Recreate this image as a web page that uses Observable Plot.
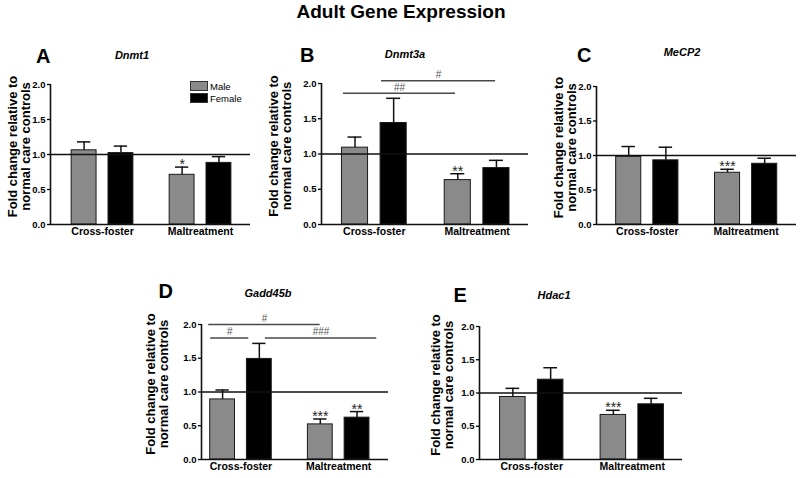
<!DOCTYPE html>
<html><head><meta charset="utf-8">
<script src="https://cdn.jsdelivr.net/npm/d3@7"></script>
<script src="https://cdn.jsdelivr.net/npm/@observablehq/plot@0.6"></script>
<style>
body{margin:0;background:#fff;font-family:"Liberation Sans",Arial,sans-serif;}
#fig{position:relative;width:800px;height:478px;overflow:hidden;background:#fff;}
.abs{position:absolute;line-height:1;white-space:nowrap;color:#000;}
.panel{position:absolute;}
</style></head><body><div id="fig"></div>
<script>
// ---- data ----
const groups = ["Cross-foster", "Maltreatment"];
const sexes = ["Male", "Female"];
const genes = ["Dnmt1", "Dnmt3a", "MeCP2", "Gadd45b", "Hdac1"];
const panelLetters = ["A", "B", "C", "D", "E"];
const yTicks = [0, 0.5, 1, 1.5, 2];
const yLabel = "Fold change relative to\nnormal care controls";
const title = "Adult Gene Expression";

// order: Cross-foster Male, Cross-foster Female, Maltreatment Male, Maltreatment Female
const dnmt1Mean = [1.06, 1.02, 0.71, 0.88];
const dnmt1Sem = [0.12, 0.10, 0.11, 0.09];
const dnmt1Stars = ["", "", "*", ""];

const dnmt3aMean = [1.09, 1.44, 0.63, 0.80];
const dnmt3aSem = [0.15, 0.35, 0.09, 0.11];
const dnmt3aStars = ["", "", "**", ""];

const mecp2Mean = [0.98, 0.93, 0.75, 0.88];
const mecp2Sem = [0.15, 0.19, 0.05, 0.08];
const mecp2Stars = ["", "", "***", ""];

const gadd45bMean = [0.89, 1.49, 0.52, 0.62];
const gadd45bSem = [0.14, 0.23, 0.08, 0.09];
const gadd45bStars = ["", "", "***", "**"];

const hdac1Mean = [0.94, 1.20, 0.67, 0.83];
const hdac1Sem = [0.13, 0.18, 0.07, 0.09];
const hdac1Stars = ["", "", "***", ""];

// significance brackets (x in group units: 0 = Cross-foster, 1 = Maltreatment)
const dnmt3aSigFrom = [-0.30, 0.07];
const dnmt3aSigTo = [0.79, 1.18];
const dnmt3aSigY = [1.86, 2.04];
const dnmt3aSigLabel = ["##", "#"];

const gadd45bSigFrom = [-0.33, -0.31, 0.25];
const gadd45bSigTo = [0.81, 0.08, 1.39];
const gadd45bSigY = [2.00, 1.80, 1.80];
const gadd45bSigLabel = ["#", "#", "###"];

const means = [dnmt1Mean, dnmt3aMean, mecp2Mean, gadd45bMean, hdac1Mean];
const sems = [dnmt1Sem, dnmt3aSem, mecp2Sem, gadd45bSem, hdac1Sem];
const stars = [dnmt1Stars, dnmt3aStars, mecp2Stars, gadd45bStars, hdac1Stars];
const sigs = [null, [dnmt3aSigFrom, dnmt3aSigTo, dnmt3aSigY, dnmt3aSigLabel], null,
  [gadd45bSigFrom, gadd45bSigTo, gadd45bSigY, gadd45bSigLabel], null];

// ---- layout ----
const FONT = '"Liberation Sans", Arial, sans-serif';
const sexOffset = 0.188, halfBar = 0.127, halfCap = 0.068;
const layouts = [
  {left: 0,   top: 40,  width: 260, height: 210, mL: 50, mR: 10, mT: 44, mB: 26, xd: [-0.531, 1.51], ldx: -31},
  {left: 270, top: 40,  width: 268, height: 210, mL: 51, mR: 10, mT: 43, mB: 26, xd: [-0.514, 1.50], ldx: -41},
  {left: 540, top: 40,  width: 260, height: 210, mL: 56, mR: 4,  mT: 46, mB: 26, xd: [-0.514, 1.51], ldx: -31},
  {left: 150, top: 280, width: 248, height: 205, mL: 51, mR: 10, mT: 44, mB: 26, xd: [-0.404, 1.51], ldx: -44},
  {left: 430, top: 280, width: 262, height: 205, mL: 49, mR: 10, mT: 46, mB: 26, xd: [-0.52, 1.50], ldx: -37}
];
const letterPos = [[36, 45.8], [300, 44.8], [577, 44.8], [158.5, 281.4], [453.5, 284.8]];
const genePos = [[132, 50.3], [405, 49.3], [682, 47.3], [268, 288.3], [554, 290.3]];

const fig = document.getElementById("fig");
function addText(txt, left, top, css) {
  const d = document.createElement("div");
  d.className = "abs";
  d.textContent = txt;
  d.style.left = left + "px";
  d.style.top = top + "px";
  d.style.cssText += css;
  fig.appendChild(d);
  return d;
}

addText(title, 401, 2.2, "font-size:19px;font-weight:bold;transform:translateX(-50%);");

genes.forEach((gene, p) => {
  const L = layouts[p];
  const rows = [];
  groups.forEach((g, gi) => sexes.forEach((s, si) => {
    const k = gi * 2 + si;
    const xc = gi + (si === 0 ? -sexOffset : sexOffset);
    rows.push({group: g, sex: s, xc, mean: means[p][k], cap: means[p][k] + sems[p][k], star: stars[p][k]});
  }));
  const marks = [
    Plot.rect(rows, {x1: d => d.xc - halfBar, x2: d => d.xc + halfBar, y1: 0, y2: "mean",
      fill: "sex", stroke: "#1a1a1a", strokeWidth: 1}),
    Plot.ruleX(rows, {x: "xc", y1: "mean", y2: "cap", stroke: "#111", strokeWidth: 1.5}),
    Plot.ruleY(rows, {x1: d => d.xc - halfCap, x2: d => d.xc + halfCap, y: "cap", stroke: "#111", strokeWidth: 1.5}),
    Plot.ruleY([1], {stroke: "#111", strokeWidth: 1.3}),
    Plot.ruleY([0], {stroke: "#111", strokeWidth: 1.6}),
    Plot.ruleX([L.xd[0]], {stroke: "#111", strokeWidth: 1.6}),
    Plot.axisY(yTicks, {tickFormat: d3.format(".1f"), tickSize: 3, tickPadding: 2, fontSize: 9.5,
      fontWeight: "bold", label: null, strokeWidth: 1.3}),
    Plot.axisX([0, 1], {tickFormat: i => groups[i], tickSize: 0, tickPadding: 3, fontSize: 10.5,
      fontWeight: "bold", label: null}),
    Plot.text([yLabel], {frameAnchor: "left", textAnchor: "middle", lineAnchor: "middle", rotate: -90,
      dx: L.ldx, dy: -8, fontSize: 13, fontWeight: "bold", lineHeight: 1.03}),
    Plot.text(rows.filter(d => d.star), {x: "xc", y: "cap", text: "star", lineAnchor: "bottom",
      dy: 2, fontSize: 14, fill: "#222"})
  ];
  if (sigs[p]) {
    const [from, to, ys, labels] = sigs[p];
    const sig = from.map((f, i) => ({from: f, to: to[i], y: ys[i], label: labels[i]}));
    marks.push(Plot.ruleY(sig, {x1: "from", x2: "to", y: "y", stroke: "#4a4a4a", strokeWidth: 1.5}));
    marks.push(Plot.text(sig, {x: d => (d.from + d.to) / 2, y: "y", text: "label", dy: -6,
      fontSize: 10, fill: "#555"}));
  }
  const chart = Plot.plot({
    width: L.width, height: L.height,
    marginLeft: L.mL, marginRight: L.mR, marginTop: L.mT, marginBottom: L.mB,
    x: {type: "linear", domain: L.xd, axis: null},
    y: {domain: [0, 2], axis: null},
    color: {domain: sexes, range: ["#8a8a8a", "#000000"]},
    style: {fontFamily: FONT, background: "transparent", overflow: "visible", color: "#000"},
    marks
  });
  chart.classList.add("panel");
  chart.style.left = L.left + "px";
  chart.style.top = L.top + "px";
  fig.appendChild(chart);

  addText(panelLetters[p], letterPos[p][0], letterPos[p][1], "font-size:20px;font-weight:bold;");
  addText(gene, genePos[p][0], genePos[p][1], "font-size:11px;font-weight:bold;font-style:italic;transform:translateX(-50%);");
});

// legend (panel A)
const legendTops = [81, 93];
sexes.forEach((s, i) => {
  const sw = document.createElement("div");
  sw.className = "abs";
  sw.style.cssText += `left:190px;top:${legendTops[i]}px;width:18px;height:10px;box-sizing:border-box;border:1px solid #333;background:${i === 0 ? "#8a8a8a" : "#000"};`;
  fig.appendChild(sw);
  addText(s, 210, legendTops[i] + 0.5, "font-size:9.5px;");
});
</script></body></html>
